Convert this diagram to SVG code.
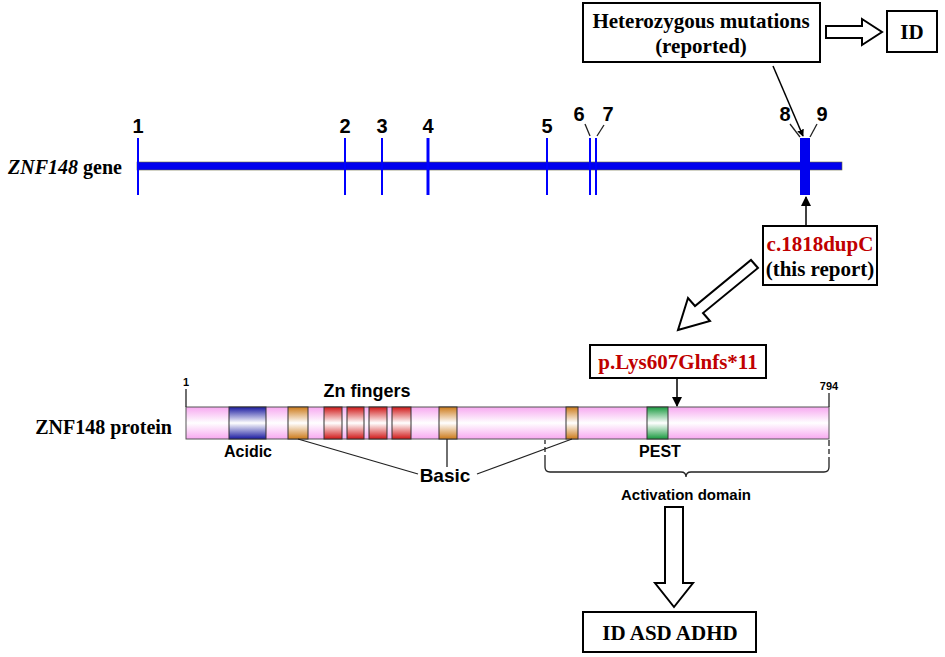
<svg xmlns="http://www.w3.org/2000/svg" width="945" height="657" viewBox="0 0 945 657">
<defs>
<style>
.box{fill:#fff;stroke:#000;stroke-width:2}
.ser{font-family:"Liberation Serif",serif;font-weight:bold;font-size:21px}
.red{fill:#c00000}
.san{font-family:"Liberation Sans",Arial,sans-serif;font-weight:bold}
.ex{stroke:#0000ff;stroke-width:2}
.ln{stroke:#222;stroke-width:1.3;fill:none}
.hollow{fill:#fff;stroke:#000;stroke-width:2;stroke-linejoin:miter}
</style>
<linearGradient id="gPink" x1="0" y1="0" x2="0" y2="1"><stop offset="0" stop-color="#f7a8f0"/><stop offset="0.5" stop-color="#fff"/><stop offset="1" stop-color="#f7a8f0"/></linearGradient>
<linearGradient id="gBlue" x1="0" y1="0" x2="0" y2="1"><stop offset="0" stop-color="#1a1aa0"/><stop offset="0.5" stop-color="#fff"/><stop offset="1" stop-color="#1a1aa0"/></linearGradient>
<linearGradient id="gOr" x1="0" y1="0" x2="0" y2="1"><stop offset="0" stop-color="#cc7a1a"/><stop offset="0.5" stop-color="#fff"/><stop offset="1" stop-color="#cc7a1a"/></linearGradient>
<linearGradient id="gRed" x1="0" y1="0" x2="0" y2="1"><stop offset="0" stop-color="#d01818"/><stop offset="0.5" stop-color="#fff"/><stop offset="1" stop-color="#d01818"/></linearGradient>
<linearGradient id="gGr" x1="0" y1="0" x2="0" y2="1"><stop offset="0" stop-color="#1a9a40"/><stop offset="0.5" stop-color="#fff"/><stop offset="1" stop-color="#1a9a40"/></linearGradient>
<marker id="ah" viewBox="0 0 10 10" refX="9" refY="5" markerWidth="7" markerHeight="7" orient="auto" markerUnits="userSpaceOnUse"><path d="M0,0L10,5L0,10z" fill="#000"/></marker>
<marker id="ah2" viewBox="0 0 10 10" refX="9" refY="5" markerWidth="10" markerHeight="10" orient="auto" markerUnits="userSpaceOnUse"><path d="M0,0L10,5L0,10z" fill="#000"/></marker>
</defs>
<rect width="945" height="657" fill="#fff"/>

<g id="gene">
<text x="122" y="174" text-anchor="end" class="ser" style="font-size:20px"><tspan font-style="italic">ZNF148</tspan> gene</text>
<rect x="137" y="162" width="705" height="8" fill="#0000ee" stroke="#6a6a3a" stroke-width="0.6"/>
<g class="ex">
<line x1="138" y1="138" x2="138" y2="195"/><line x1="345" y1="138" x2="345" y2="195"/>
<line x1="382" y1="138" x2="382" y2="195"/><line x1="428" y1="138" x2="428" y2="195" stroke-width="3"/>
<line x1="547" y1="138" x2="547" y2="195"/><line x1="590" y1="138" x2="590" y2="195"/><line x1="596" y1="138" x2="596" y2="195"/>
</g>
<rect x="800" y="138" width="10" height="57" fill="#0000ee"/>
<g class="san" font-size="20" text-anchor="middle">
<text x="138" y="133">1</text><text x="345" y="133">2</text><text x="382" y="133">3</text><text x="428" y="133">4</text>
<text x="547" y="133">5</text><text x="579" y="121">6</text><text x="608" y="121">7</text>
<text x="785" y="121">8</text><text x="822" y="121">9</text>
</g>
<g class="ln"><line x1="585" y1="124" x2="590" y2="136"/><line x1="604" y1="125" x2="597" y2="136"/>
<line x1="790" y1="124" x2="800" y2="137"/><line x1="817" y1="124" x2="810" y2="137"/></g>
</g>

<g id="hetero"><rect x="583" y="3" width="237" height="59" class="box"/>
<text x="701" y="28" text-anchor="middle" class="ser">Heterozygous mutations</text>
<text x="701" y="53" text-anchor="middle" class="ser">(reported)</text></g>
<g id="id"><rect x="887" y="11" width="50" height="41" class="box"/>
<text x="912" y="39" text-anchor="middle" class="ser">ID</text></g>

<g id="cdup"><rect x="763" y="226" width="114" height="59" class="box"/>
<text x="820" y="251" text-anchor="middle" class="ser red">c.1818dupC</text>
<text x="820" y="276" text-anchor="middle" class="ser">(this report)</text></g>

<g id="pLys"><rect x="590" y="345" width="176" height="33" class="box"/>
<text x="678" y="369" text-anchor="middle" class="ser red">p.Lys607Glnfs*11</text></g>

<g id="protein">
<text x="172" y="434" text-anchor="end" class="ser" style="font-size:20px">ZNF148 protein</text>
<rect x="186" y="407" width="643" height="32" fill="url(#gPink)" stroke="#555" stroke-width="1"/>
<rect x="229" y="407" width="37" height="32" fill="url(#gBlue)" stroke="#333"/>
<rect x="288" y="407" width="20" height="32" fill="url(#gOr)" stroke="#333"/>
<rect x="324" y="407" width="18" height="32" fill="url(#gRed)" stroke="#333"/>
<rect x="347" y="407" width="17" height="32" fill="url(#gRed)" stroke="#333"/>
<rect x="369" y="407" width="18" height="32" fill="url(#gRed)" stroke="#333"/>
<rect x="392" y="407" width="19" height="32" fill="url(#gRed)" stroke="#333"/>
<rect x="439" y="407" width="18" height="32" fill="url(#gOr)" stroke="#333"/>
<rect x="566" y="407" width="12" height="32" fill="url(#gOr)" stroke="#333"/>
<rect x="647" y="407" width="21" height="32" fill="url(#gGr)" stroke="#333"/>
<line x1="186" y1="389" x2="186" y2="407" class="ln"/>
<line x1="829" y1="393" x2="829" y2="407" class="ln"/>
<g class="san" font-size="11" text-anchor="middle"><text x="186" y="386">1</text><text x="829" y="390">794</text></g>
<g class="san" text-anchor="middle">
<text x="367" y="397" font-size="18">Zn fingers</text>
<text x="248" y="457" font-size="16">Acidic</text>
<text x="445" y="482" font-size="19">Basic</text>
<text x="660" y="457" font-size="16">PEST</text>
<text x="686" y="500" font-size="15">Activation domain</text>
</g>
<g class="ln">
<line x1="298" y1="439" x2="418" y2="474"/><line x1="447" y1="439" x2="447" y2="467"/><line x1="572" y1="439" x2="477" y2="474"/>
<path d="M545,440V467Q545,472 550,472H681Q686,472 686,477Q686,472 691,472H824Q829,472 829,467V440"/>
</g>
<rect x="543" y="444" width="4" height="3" fill="#fff"/><rect x="543" y="452" width="4" height="3" fill="#fff"/>
<rect x="827" y="446" width="4" height="3" fill="#fff"/><rect x="827" y="454" width="4" height="3" fill="#fff"/>
</g>

<g id="outcome"><rect x="583" y="612" width="173" height="40" class="box"/>
<text x="670" y="640" text-anchor="middle" class="ser">ID ASD ADHD</text></g>

<g id="connectors">
<line x1="773" y1="66" x2="803" y2="136" stroke="#000" stroke-width="1.5" marker-end="url(#ah)"/>
<line x1="806" y1="226" x2="806" y2="197" stroke="#000" stroke-width="1.5" marker-end="url(#ah2)"/>
<line x1="677" y1="378" x2="677" y2="406" stroke="#000" stroke-width="1.5" marker-end="url(#ah2)"/>
<path class="hollow" d="M826,26H862V19L882,32L862,45V38H826Z"/>
<path class="hollow" d="M665,507H683V583H693L674,607L655,583H665Z"/>
<path class="hollow" d="M751,260L758,268L703,313L710,321L678,330L688,298L695,306Z"/>
</g>
</svg>
